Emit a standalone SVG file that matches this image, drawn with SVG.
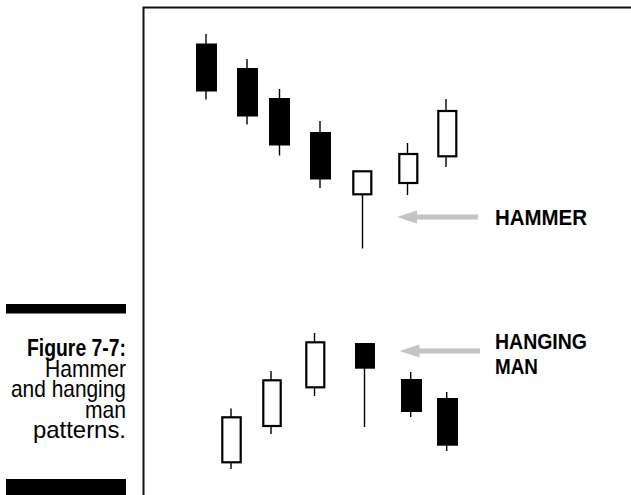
<svg xmlns="http://www.w3.org/2000/svg" width="631" height="495" viewBox="0 0 631 495">
<style>
.wick{stroke:#000;stroke-width:1.4;fill:none}
.bear{fill:#000;stroke:none}
.bull{fill:#fff;stroke:#000;stroke-width:2.2}
.arrow{fill:#c4c4c4;stroke:none}
.lbl{font-family:"Liberation Sans",Arial,sans-serif;font-weight:bold;font-size:22px;fill:#000}
.cap{font-family:"Liberation Sans",Arial,sans-serif;font-size:24px;fill:#000;text-anchor:end}
.capb{font-weight:bold}
</style>
<rect x="0" y="0" width="631" height="495" fill="#fff"/>
<g id="frame">
<path d="M143.5,495 V7.5 H631" fill="none" stroke="#111" stroke-width="2"/>
</g>
<g id="caption">
<rect x="6" y="304" width="120" height="9.5" fill="#000"/>
<rect x="6" y="479" width="120" height="16" fill="#000"/>
<text class="cap capb" x="126" y="356" textLength="99" lengthAdjust="spacingAndGlyphs">Figure 7-7:</text>
<text class="cap" x="126" y="376.5" textLength="81" lengthAdjust="spacingAndGlyphs">Hammer</text>
<text class="cap" x="126" y="397" textLength="115" lengthAdjust="spacingAndGlyphs">and hanging</text>
<text class="cap" x="126" y="417.5" textLength="41" lengthAdjust="spacingAndGlyphs">man</text>
<text class="cap" x="126" y="438" textLength="93" lengthAdjust="spacingAndGlyphs">patterns.</text>
</g>
<g id="downtrend">
<g id="t1"><line class="wick" x1="206" y1="34" x2="206" y2="99.5"/><rect class="bear" x="196" y="43.5" width="21" height="48"/></g>
<g id="t2"><line class="wick" x1="247" y1="59" x2="247" y2="124.5"/><rect class="bear" x="237" y="68" width="21" height="48.5"/></g>
<g id="t3"><line class="wick" x1="279.5" y1="89" x2="279.5" y2="155.5"/><rect class="bear" x="269" y="98" width="21" height="47.5"/></g>
<g id="t4"><line class="wick" x1="320" y1="121" x2="320" y2="188"/><rect class="bear" x="310" y="132" width="21" height="47.5"/></g>
<g id="hammer"><line class="wick" x1="362.5" y1="195" x2="362.5" y2="248.5"/><rect class="bull" x="353.3" y="171.3" width="18" height="23"/></g>
<g id="t6"><line class="wick" x1="407.5" y1="143" x2="407.5" y2="195"/><rect class="bull" x="399.3" y="154" width="18" height="29"/></g>
<g id="t7"><line class="wick" x1="446" y1="99" x2="446" y2="167"/><rect class="bull" x="438.3" y="111" width="18" height="45.3"/></g>
</g>
<g id="uptrend">
<g id="b1"><line class="wick" x1="231" y1="408.5" x2="231" y2="469"/><rect class="bull" x="222.3" y="417.3" width="18.4" height="45"/></g>
<g id="b2"><line class="wick" x1="271" y1="371" x2="271" y2="434"/><rect class="bull" x="263.3" y="380.3" width="17.4" height="45.7"/></g>
<g id="b3"><line class="wick" x1="314.5" y1="333" x2="314.5" y2="396"/><rect class="bull" x="306.3" y="342.3" width="18" height="45"/></g>
<g id="hangingman"><line class="wick" x1="364.5" y1="368" x2="364.5" y2="427"/><rect class="bear" x="355" y="343" width="20" height="25.7"/></g>
<g id="b5"><line class="wick" x1="410.7" y1="372" x2="410.7" y2="417"/><rect class="bear" x="401" y="379" width="21" height="33"/></g>
<g id="b6"><line class="wick" x1="446.7" y1="392" x2="446.7" y2="451"/><rect class="bear" x="437" y="398" width="21" height="47.7"/></g>
</g>
<g id="connectors">
<polygon class="arrow" points="397,217 417,210.5 417,214.5 478,214.5 478,219.5 417,219.5 417,223.5"/>
<polygon class="arrow" points="399.5,351 419.5,344.5 419.5,348.5 480,348.5 480,353.5 419.5,353.5 419.5,357.5"/>
</g>
<g id="label-hammer"><text class="lbl" x="495" y="224.5" textLength="92" lengthAdjust="spacingAndGlyphs">HAMMER</text></g>
<g id="label-hanging"><text class="lbl" x="495" y="349" textLength="92" lengthAdjust="spacingAndGlyphs">HANGING</text><text class="lbl" x="495" y="373.5" textLength="43" lengthAdjust="spacingAndGlyphs">MAN</text></g>
</svg>
